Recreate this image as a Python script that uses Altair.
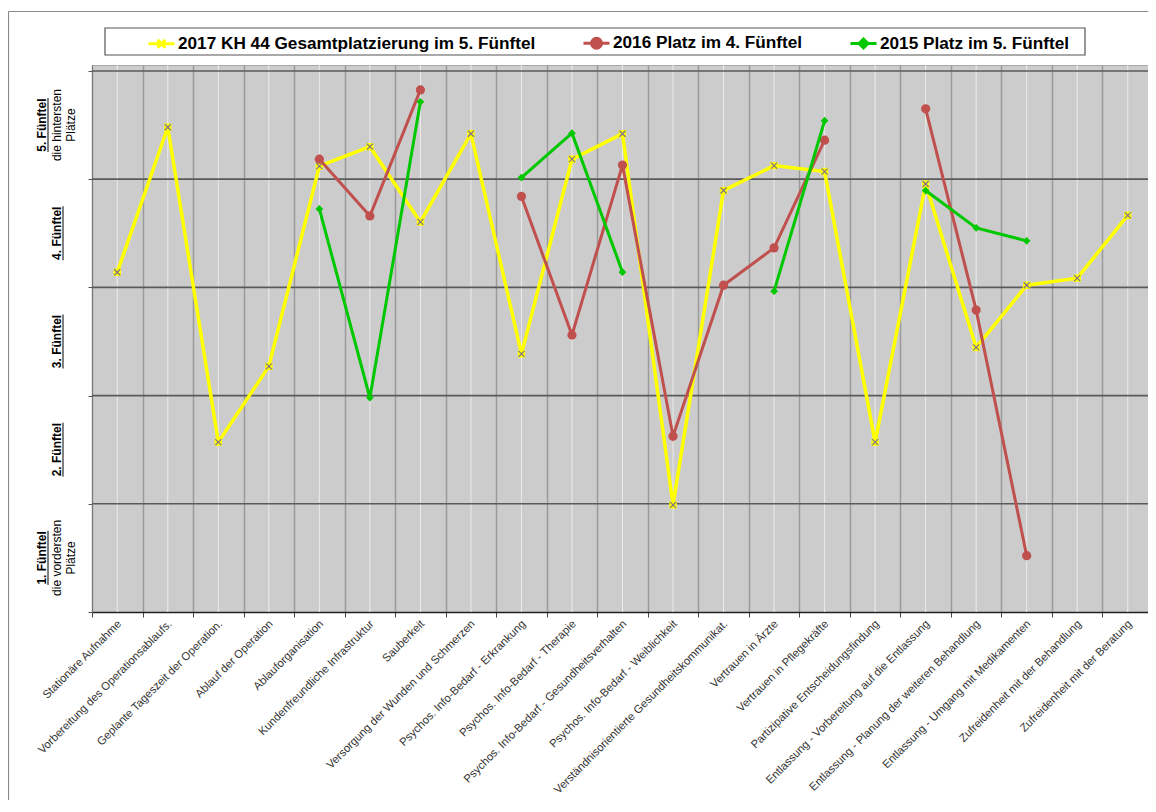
import altair as alt
import pandas as pd

categories = [
    "Stationäre Aufnahme",
    "Vorbereitung des Operationsablaufs.",
    "Geplante Tageszeit der Operation.",
    "Ablauf der Operation",
    "Ablauforganisation",
    "Kundenfreundliche Infrastruktur",
    "Sauberkeit",
    "Versorgung der Wunden und Schmerzen",
    "Psychos. Info-Bedarf - Erkrankung",
    "Psychos. Info-Bedarf - Therapie",
    "Psychos. Info-Bedarf - Gesundheitsverhalten",
    "Psychos. Info-Bedarf - Weiblichkeit",
    "Verständnisorientierte Gesundheitskommunikat.",
    "Vertrauen in Ärzte",
    "Vertrauen in Pflegekräfte",
    "Partizipative Entscheidungsfindung",
    "Entlassung - Vorbereitung auf die Entlassung",
    "Entlassung - Planung der weiteren Behandlung",
    "Entlassung - Umgang mit Medikamenten",
    "Zufreidenheit mit der Behandlung",
    "Zufreidenheit mit der Beratung",
]

series_names = [
    "2017 KH 44 Gesamtplatzierung im 5. Fünftel",
    "2016 Platz im 4. Fünftel",
    "2015 Platz im 5. Fünftel",
]

# percentile position (0 = vorderste Plätze, 100 = hinterste Plätze)
v2017 = [62.8, 89.6, 31.4, 45.4, 82.4, 86.0, 72.1, 88.4, 47.7, 83.7, 88.4,
         19.8, 77.9, 82.5, 81.4, 31.4, 79.1, 48.9, 60.4, 61.7, 73.3]
v2016 = [None, None, None, None, 83.7, 73.2, 96.5, None, 76.8, 51.2, 82.6,
         32.5, 60.4, 67.3, 87.2, None, 93.0, 55.8, 10.4, None, None]
v2015 = [None, None, None, None, 74.5, 39.6, 94.3, None, 80.3, 88.5, 62.8,
         None, None, 59.3, 90.8, None, 77.9, 71.0, 68.6, None, None]

band_edges = [20, 40, 60, 80, 100]
quintile_bold = ["1. Fünftel", "2. Fünftel", "3. Fünftel", "4. Fünftel", "5. Fünftel"]
quintile_centers = [10, 30, 50, 70, 90]
sub_line1 = ["die vordersten", "die hintersten"]
sub_line2 = ["Plätze", "Plätze"]

colors = ["#FFFF00", "#C0504D", "#00C800"]
legend_paths = [
    "M-1,0L1,0M-0.3,-0.3L0.3,0.3M-0.3,0.3L0.3,-0.3",
    "M-1,0L1,0M0.38,0A0.38,0.38,0,1,1,-0.38,0A0.38,0.38,0,1,1,0.38,0Z",
    "M-1,0L1,0M0,-0.34L0.34,0L0,0.34L-0.34,0Z",
]


def series_df(values, name):
    rows = []
    seg = 0
    for i, v in enumerate(values):
        if v is None:
            seg += 1
            continue
        rows.append({"idx": i, "category": categories[i], "value": v,
                     "series": name, "seg": f"{name}-{seg}"})
    return pd.DataFrame(rows)


W, H = 1061, 547

x_enc = alt.X(
    "category:N",
    scale=alt.Scale(type="band", domain=categories, paddingInner=0, paddingOuter=0),
    axis=alt.Axis(
        title=None, tickBand="extent", grid=True, gridColor="#9a9a9a", gridWidth=1.5,
        labelAngle=315, labelAlign="right", labelBaseline="middle",
        labelFont="Liberation Sans", labelFontSize=11.3, labelColor="#333333",
        labelOverlap=False, labelLimit=0, labelPadding=5, labelOffset=2,
        tickColor="#444444", tickSize=5, tickWidth=1,
        domainColor="#222222", domainWidth=1.5,
    ),
)
y_scale = alt.Scale(domain=[0, 101.1], nice=False, zero=False)
y_enc = alt.Y(
    "value:Q",
    scale=y_scale,
    axis=alt.Axis(
        title=None, values=[0, 20, 40, 60, 80, 100], labels=False, grid=False,
        ticks=True, tickSize=4, tickColor="#555555", domainColor="#777777", domainWidth=1,
    ),
)

cat_df = pd.DataFrame({"category": categories})
center_rules = alt.Chart(cat_df).mark_rule(color="#ececec", strokeWidth=1).encode(x=x_enc)

edge_df = pd.DataFrame({"value": band_edges})
h_rules = alt.Chart(edge_df).mark_rule(color="#5a5a5a", strokeWidth=1.6).encode(y=y_enc)

layers = [center_rules, h_rules]

d17 = series_df(v2017, series_names[0])
d16 = series_df(v2016, series_names[1])
d15 = series_df(v2015, series_names[2])

# 2017 (yellow, X marker)
layers.append(alt.Chart(d17).mark_line(color=colors[0], strokeWidth=3.5).encode(
    x=x_enc, y=y_enc, detail="seg:N", order="idx:Q"))
layers.append(alt.Chart(d17).mark_point(shape="square", filled=True, color=colors[0],
                                        size=55, opacity=1).encode(x=x_enc, y=y_enc))
layers.append(alt.Chart(d17).mark_point(shape="M-1,-1L1,1M-1,1L1,-1", filled=False,
                                        color="#7d6f8c", strokeWidth=1.2, size=36,
                                        opacity=1).encode(x=x_enc, y=y_enc))
# 2016 (red, circle)
layers.append(alt.Chart(d16).mark_line(color=colors[1], strokeWidth=3).encode(
    x=x_enc, y=y_enc, detail="seg:N", order="idx:Q"))
layers.append(alt.Chart(d16).mark_point(shape="circle", filled=True, color=colors[1],
                                        size=85, opacity=1).encode(x=x_enc, y=y_enc))
# 2015 (green, diamond)
layers.append(alt.Chart(d15).mark_line(color=colors[2], strokeWidth=3).encode(
    x=x_enc, y=y_enc, detail="seg:N", order="idx:Q"))
layers.append(alt.Chart(d15).mark_point(shape="diamond", filled=True, color=colors[2],
                                        size=60, opacity=1).encode(x=x_enc, y=y_enc))

# legend box
box_df = pd.DataFrame({"k": [0]})
layers.append(alt.Chart(box_df).mark_rect(fill="white", stroke="#555555", strokeWidth=1.2).encode(
    x=alt.value(13), x2=alt.value(993), y=alt.value(-37), y2=alt.value(-10)))

# legend (empty marks, explicit domains)
leg = alt.Legend(
    title=None, orient="none", legendX=55, legendY=-36.5, direction="horizontal",
    symbolSize=676, symbolStrokeWidth=3, labelFont="Liberation Sans", labelFontSize=17.2,
    labelFontWeight="bold", labelColor="#000000", labelLimit=0, labelOffset=2,
    columnPadding=41, padding=0,
)
legend_df = pd.DataFrame({"series": series_names, "value": [None, None, None],
                          "category": [categories[0]] * 3})
layers.append(alt.Chart(legend_df).mark_point(filled=True, opacity=1).encode(
    x=x_enc, y=y_enc,
    fill=alt.Fill("series:N", scale=alt.Scale(domain=series_names, range=colors), legend=leg),
    stroke=alt.Stroke("series:N", scale=alt.Scale(domain=series_names, range=colors), legend=leg),
    shape=alt.Shape("series:N", scale=alt.Scale(domain=series_names, range=legend_paths), legend=leg),
))

# y quintile labels
multi_df = pd.DataFrame({"value": [quintile_centers[0], quintile_centers[4]],
                         "label": [quintile_bold[0], quintile_bold[4]],
                         "l1": sub_line1, "l2": sub_line2})
single_df = pd.DataFrame({"value": quintile_centers[1:4], "label": quintile_bold[1:4]})
txt = dict(angle=270, font="Liberation Sans", fontSize=12, color="#000000",
           align="center", baseline="middle")
layers.append(alt.Chart(multi_df).mark_text(fontWeight="bold", **txt).encode(
    x=alt.value(-50), y=y_enc, text="label:N"))
layers.append(alt.Chart(multi_df).mark_text(**txt).encode(
    x=alt.value(-35), y=y_enc, text="l1:N"))
layers.append(alt.Chart(multi_df).mark_text(**txt).encode(
    x=alt.value(-21), y=y_enc, text="l2:N"))
layers.append(alt.Chart(single_df).mark_text(fontWeight="bold", **txt).encode(
    x=alt.value(-35), y=y_enc, text="label:N"))
layers.append(alt.Chart(multi_df).mark_rule(color="#000000", strokeWidth=1,
                                            yOffset=-27, y2Offset=27).encode(
    x=alt.value(-44), y=y_enc, y2=alt.Y2("value")))
layers.append(alt.Chart(single_df).mark_rule(color="#000000", strokeWidth=1,
                                             yOffset=-27, y2Offset=27).encode(
    x=alt.value(-29), y=y_enc, y2=alt.Y2("value")))

# outer chart border (top and left)
layers.append(alt.Chart(box_df).mark_rule(color="#8a8a8a", strokeWidth=1.2).encode(
    x=alt.value(-83.5), y=alt.value(-53.5), y2=alt.value(800)))
layers.append(alt.Chart(box_df).mark_rule(color="#8a8a8a", strokeWidth=1.2).encode(
    x=alt.value(-83.5), x2=alt.value(1070), y=alt.value(-53.5)))

chart = alt.layer(*layers).properties(
    width=W, height=H,
    autosize=alt.AutoSizeParams(type="none"),
    padding={"left": 84, "top": 57, "right": -5, "bottom": 188},
    background="white",
).configure_view(
    fill="#cccccc", stroke="#a8a8a8", strokeWidth=1,
)

chart.save("out.html", embed_options={"renderer": "svg", "actions": False})
